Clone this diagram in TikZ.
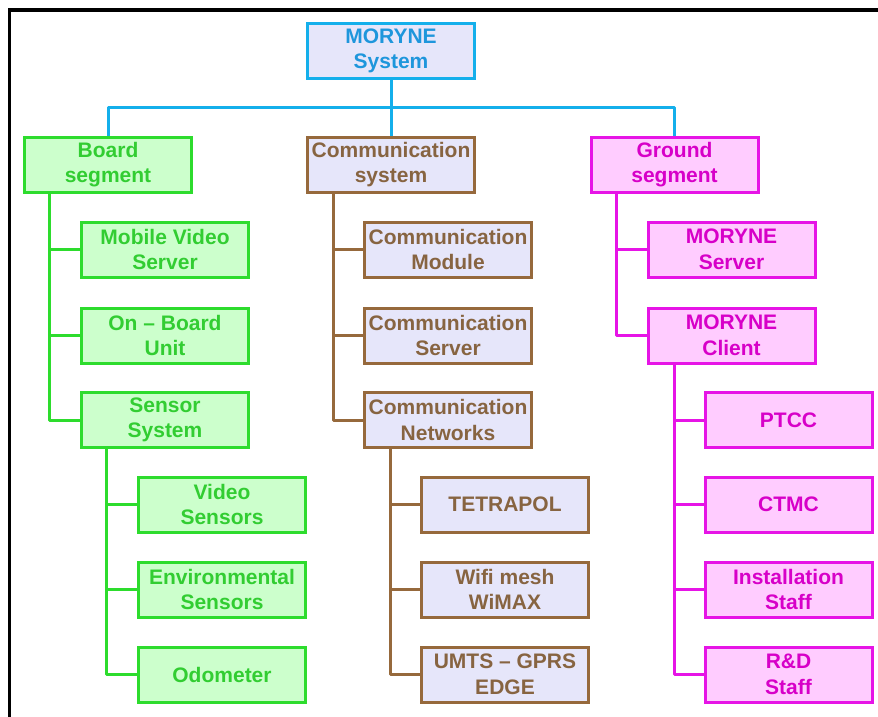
\documentclass[tikz,border=0pt]{standalone}
\usepackage{fontspec}
\setmainfont{Liberation Sans}
\definecolor{cblue}{RGB}{20,175,235}
\definecolor{cbluet}{RGB}{30,150,220}
\definecolor{clav}{RGB}{230,230,250}
\definecolor{cgreen}{RGB}{45,220,45}
\definecolor{cgreent}{RGB}{50,205,50}
\definecolor{cgreenf}{RGB}{204,255,204}
\definecolor{cbrown}{RGB}{150,105,60}
\definecolor{cbrownt}{RGB}{135,100,65}
\definecolor{cmag}{RGB}{230,20,230}
\definecolor{cmagt}{RGB}{215,0,200}
\definecolor{cmagf}{RGB}{255,204,255}
\begin{document}
\begin{tikzpicture}[x=1pt,y=-1pt,
  box/.style={draw, line width=3pt, minimum width=167pt, minimum height=55pt,
    inner sep=0pt, align=center, font=\bfseries\fontsize{21}{25.5}\selectfont},
  bluebox/.style={box, draw=cblue, fill=clav, text=cbluet},
  greenbox/.style={box, draw=cgreen, fill=cgreenf, text=cgreent},
  brownbox/.style={box, draw=cbrown, fill=clav, text=cbrownt},
  magbox/.style={box, draw=cmag, fill=cmagf, text=cmagt},
  conn/.style={line width=3pt, line join=round},
  bline/.style={conn, draw=cblue},
  gline/.style={conn, draw=cgreen},
  brline/.style={conn, draw=cbrown},
  mline/.style={conn, draw=cmag}]
\useasboundingbox (0,0) rectangle (878,716);
\clip (0,0) rectangle (878,716);
\fill[white] (0,0) rectangle (878,716);
\draw[line width=3.5pt] (9.5,10) rectangle (920,760);

% top
\node[bluebox] (sys) at (391,51) {MORYNE\\System};
\node[greenbox] (board) at (108,164.5) {Board\\segment};
\node[brownbox] (comm) at (391,164.5) {Communication\\system};
\node[magbox] (ground) at (674.5,164.5) {Ground\\segment};

% board segment
\node[greenbox] (mvs) at (165,249.5) {Mobile Video\\Server};
\node[greenbox] (obu) at (165,335.5) {On -- Board\\Unit};
\node[greenbox] (sens) at (165,420) {Sensor\\System};
\node[greenbox] (vid) at (222,504.5) {Video\\Sensors};
\node[greenbox] (env) at (222,589.5) {Environmental\\Sensors};
\node[greenbox] (odo) at (222,674.5) {Odometer};

% communication
\node[brownbox] (cmod) at (448,249.5) {Communication\\Module};
\node[brownbox] (cser) at (448,335.5) {Communication\\Server};
\node[brownbox] (cnet) at (448,420) {Communication\\Networks};
\node[brownbox] (tetra) at (505,504.5) {TETRAPOL};
\node[brownbox] (wifi) at (505,589.5) {Wifi mesh\\WiMAX};
\node[brownbox] (umts) at (505,674.5) {UMTS -- GPRS\\EDGE};

% ground
\node[magbox] (mser) at (731.5,249.5) {MORYNE\\Server};
\node[magbox] (mcli) at (731.5,335.5) {MORYNE\\Client};
\node[magbox] (ptcc) at (788.5,420) {PTCC};
\node[magbox] (ctmc) at (788.5,504.5) {CTMC};
\node[magbox] (inst) at (788.5,589.5) {Installation\\Staff};
\node[magbox] (rd) at (788.5,674.5) {R\&D\\Staff};

% connectors
\begin{scope}[on background layer/.style={}]
\draw[bline] (sys.south) -- (comm.north);
\draw[bline] (board.north) -- ++(0,-28) -| (ground.north);

\draw[gline] ([xshift=26.5pt]board.south west) |- (mvs.west);
\draw[gline] ([xshift=26.5pt]board.south west) |- (obu.west);
\draw[gline] ([xshift=26.5pt]board.south west) |- (sens.west);
\draw[gline] ([xshift=26.5pt]sens.south west) |- (vid.west);
\draw[gline] ([xshift=26.5pt]sens.south west) |- (env.west);
\draw[gline] ([xshift=26.5pt]sens.south west) |- (odo.west);

\draw[brline] ([xshift=27.5pt]comm.south west) |- (cmod.west);
\draw[brline] ([xshift=27.5pt]comm.south west) |- (cser.west);
\draw[brline] ([xshift=27.5pt]comm.south west) |- (cnet.west);
\draw[brline] ([xshift=27.5pt]cnet.south west) |- (tetra.west);
\draw[brline] ([xshift=27.5pt]cnet.south west) |- (wifi.west);
\draw[brline] ([xshift=27.5pt]cnet.south west) |- (umts.west);

\draw[mline] ([xshift=27pt]ground.south west) |- (mser.west);
\draw[mline] ([xshift=27pt]ground.south west) |- (mcli.west);
\draw[mline] ([xshift=28pt]mcli.south west) |- (ptcc.west);
\draw[mline] ([xshift=28pt]mcli.south west) |- (ctmc.west);
\draw[mline] ([xshift=28pt]mcli.south west) |- (inst.west);
\draw[mline] ([xshift=28pt]mcli.south west) |- (rd.west);
\end{scope}
\end{tikzpicture}
\end{document}
